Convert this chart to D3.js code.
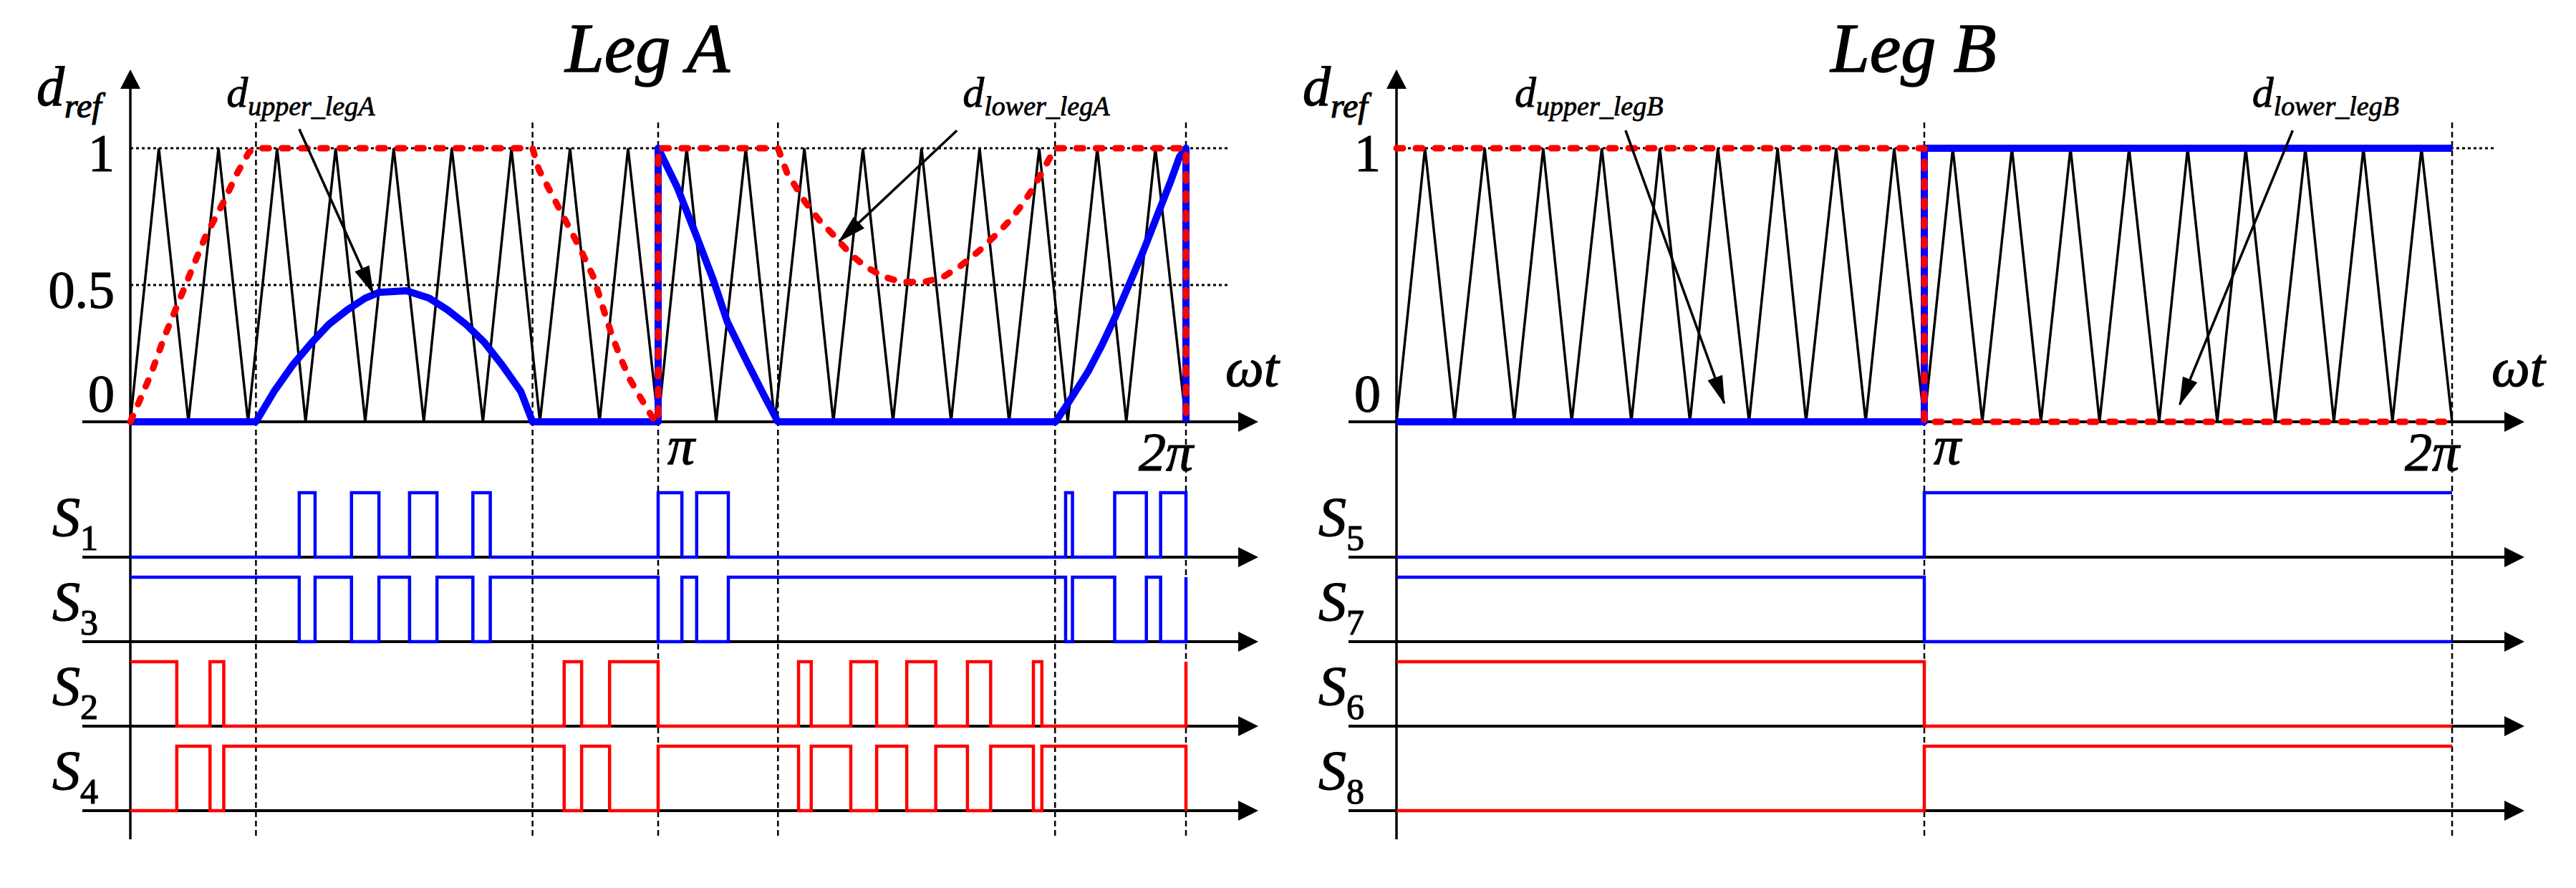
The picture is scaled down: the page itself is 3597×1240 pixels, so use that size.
<!DOCTYPE html>
<html>
<head>
<meta charset="utf-8">
<script src="https://cdnjs.cloudflare.com/ajax/libs/d3/7.8.5/d3.min.js"></script>
<style>
  html, body { margin: 0; padding: 0; background: #fff; }
  svg { display: block; }
</style>
</head>
<body>
<svg id="chart" width="3597" height="1240"></svg>
<script>
// all times are in units of pi (0 .. 2)
const carrierTimes  = [0, 0.054, 0.110, 0.167, 0.223, 0.278, 0.332, 0.389, 0.445, 0.499, 0.556, 0.609,
                       0.668, 0.722, 0.776, 0.833, 0.889, 0.943, 1.0, 1.054, 1.110, 1.166, 1.221, 1.277,
                       1.332, 1.388, 1.445, 1.499, 1.555, 1.609, 1.665, 1.722, 1.776, 1.832, 1.887, 1.942, 2.0];
const carrierLevels = [0, 1, 0, 1, 0, 1, 0, 1, 0, 1, 0, 1, 0, 1, 0, 1, 0, 1, 0,
                       1, 0, 1, 0, 1, 0, 1, 0, 1, 0, 1, 0, 1, 0, 1, 0, 1, 0];

// ---- Leg A ----
const legATicks  = [0, 0.5, 1];
const legALabels = ["0", "0.5", "1"];
const legAGrid   = [0.5, 1];
const legABounds = [0.238, 0.762, 1, 1.227, 1.752, 2];
const upperLegA = [[0,0],[0.238,0],[0.272,0.110],[0.307,0.206],[0.342,0.286],[0.376,0.356],[0.411,0.409],
  [0.445,0.452],[0.471,0.473],[0.523,0.479],[0.566,0.452],[0.601,0.409],[0.636,0.356],[0.670,0.292],
  [0.705,0.206],[0.740,0.110],[0.762,0],[1.0,0],[1.0,1.0],[1.036,0.858],[1.071,0.687],[1.105,0.516],
  [1.131,0.366],[1.166,0.228],[1.200,0.099],[1.227,0],[1.753,0],[1.780,0.078],[1.815,0.185],[1.841,0.281],
  [1.867,0.388],[1.893,0.505],[1.919,0.623],[1.945,0.751],[1.971,0.879],[1.988,0.970],[2.0,1.0],[2.0,0]];
const lowerLegA = [[0,0],[0.013,0.057],[0.039,0.174],[0.065,0.313],[0.090,0.431],[0.117,0.559],[0.142,0.676],
  [0.177,0.805],[0.203,0.911],[0.225,0.986],[0.238,1],[0.762,1],[0.774,0.922],[0.800,0.826],[0.826,0.730],
  [0.852,0.634],[0.878,0.527],[0.895,0.420],[0.913,0.313],[0.930,0.228],[0.947,0.153],[0.973,0.067],
  [0.990,0.014],[1.0,0],[1.0,1],[1.227,1],[1.244,0.911],[1.261,0.858],[1.278,0.805],[1.304,0.740],
  [1.330,0.687],[1.365,0.612],[1.391,0.570],[1.425,0.532],[1.460,0.511],[1.503,0.511],[1.538,0.527],
  [1.573,0.570],[1.607,0.623],[1.642,0.687],[1.668,0.740],[1.694,0.805],[1.715,0.869],[1.733,0.933],
  [1.752,1],[2.0,1],[2.0,0]];
const legASwitches = ["1", "3", "2", "4"];
const legAInit     = [0, 1, 1, 0];
const legAEdges = [
  [0.320,0.350,0.419,0.471,0.529,0.581,0.649,0.682,1.0,1.045,1.073,1.133,1.772,1.785,1.865,1.925,1.952,2.0],
  [0.320,0.350,0.419,0.471,0.529,0.581,0.649,0.682,1.0,1.045,1.073,1.133,1.772,1.785,1.865,1.925,1.952,2.0],
  [0.088,0.151,0.177,0.822,0.855,0.908,1.0,1.266,1.290,1.365,1.414,1.471,1.526,1.586,1.630,1.711,1.727,2.0],
  [0.088,0.151,0.177,0.822,0.855,0.908,1.0,1.266,1.290,1.365,1.414,1.471,1.526,1.586,1.630,1.711,1.727,2.0]
];
const legANotes = [
  { base: "d", sub: "upper_legA", at: [0.182, 1.152], from: [0.32, 1.07], to: [0.46, 0.47] },
  { base: "d", sub: "lower_legA", at: [1.577, 1.152], from: [1.566, 1.065], to: [1.343, 0.66] }
];

// ---- Leg B ----
const legBTicks  = [0, 1];
const legBLabels = ["0", "1"];
const legBGrid   = [1];
const legBBounds = [1, 2];
const upperLegB = [[0,0],[1,0],[1,1],[2,1]];
const lowerLegB = [[0,1],[1,1],[1,0],[2,0]];
const legBSwitches = ["5", "7", "6", "8"];
const legBInit     = [0, 1, 1, 0];
const legBEdges    = [[1], [1], [1], [1]];
const legBNotes = [
  { base: "d", sub: "upper_legB", at: [0.224, 1.152], from: [0.434, 1.065], to: [0.621, 0.068] },
  { base: "d", sub: "lower_legB", at: [1.621, 1.152], from: [1.698, 1.065], to: [1.484, 0.063] }
];

const svg   = d3.select("#chart").attr("viewBox", [0, 0, 3597, 1240]);
const serif = "'Liberation Serif', 'Times New Roman', serif";
const blue  = "#0000ff";
const red   = "#ff0000";

svg.append("defs").append("marker")
  .attr("id", "head")
  .attr("markerUnits", "userSpaceOnUse")
  .attr("viewBox", "0 -12 40 24")
  .attr("refX", 38).attr("refY", 0)
  .attr("markerWidth", 40).attr("markerHeight", 24)
  .attr("orient", "auto")
  .append("path")
  .attr("d", "M0,-11L40,0L0,11Z")
  .attr("fill", "#000");

// heavier glyphs, like the scanned figure
function ink(sel, w){
  return sel.attr("fill", "#000").attr("stroke", "#000").attr("stroke-width", w);
}

function drawLeg(c){
  const x    = d3.scaleLinear().domain([0, 2]).range([c.left, c.left + 1474]);
  const y    = d3.scaleLinear().domain([0, 1]).range([589, 207]);
  const row  = d3.scalePoint().domain(c.switches).range([778, 1132]);
  const high = 90;
  const x0 = x(0), xEnd = x(2);
  const g = svg.append("g");

  // dotted levels
  g.selectAll(".grid").data(c.grid).join("line")
    .attr("x1", x0).attr("x2", xEnd + 58)
    .attr("y1", d => y(d)).attr("y2", d => y(d))
    .attr("stroke", "#000").attr("stroke-width", 3)
    .attr("stroke-dasharray", "4,4");

  // dashed boundaries
  g.selectAll(".bound").data(c.bounds).join("line")
    .attr("x1", d => x(d)).attr("x2", d => x(d))
    .attr("y1", 171).attr("y2", 1172)
    .attr("stroke", "#000").attr("stroke-width", 2.5)
    .attr("stroke-dasharray", "8,5");

  // carrier
  const line = d3.line().x(d => x(d[0])).y(d => y(d[1]));
  g.append("path")
    .datum(d3.zip(carrierTimes, carrierLevels))
    .attr("d", line)
    .attr("fill", "none").attr("stroke", "#000").attr("stroke-width", 3.5);

  // axes
  g.append("line")
    .attr("x1", x0).attr("x2", x0).attr("y1", 118).attr("y2", 1172)
    .attr("stroke", "#000").attr("stroke-width", 3.5);
  g.append("path")
    .attr("d", `M${x0},97L${x0 - 14},124L${x0 + 14},124Z`)
    .attr("fill", "#000");
  const axisYs = [y(0)].concat(c.switches.map(s => row(s)));
  g.selectAll(".axis").data(axisYs).join("line")
    .attr("x1", x0 - 67).attr("x2", xEnd + 78)
    .attr("y1", d => d).attr("y2", d => d)
    .attr("stroke", "#000").attr("stroke-width", 4);
  g.selectAll(".tip").data(axisYs).join("path")
    .attr("d", d => `M${xEnd + 101},${d}L${xEnd + 73},${d - 14}L${xEnd + 73},${d + 14}Z`)
    .attr("fill", "#000");

  // references
  g.append("path").datum(c.upper).attr("d", line)
    .attr("fill", "none").attr("stroke", blue).attr("stroke-width", 10)
    .attr("stroke-linejoin", "round");
  g.append("path").datum(c.lower).attr("d", line)
    .attr("fill", "none").attr("stroke", red).attr("stroke-width", 9)
    .attr("stroke-dasharray", "9,18").attr("stroke-linecap", "round")
    .attr("stroke-linejoin", "round");

  // switching signals
  c.switches.forEach((s, i) => {
    let level = c.init[i];
    const pts = [[0, level]];
    c.edges[i].forEach(e => {
      pts.push([e, level]);
      level = 1 - level;
      pts.push([e, level]);
    });
    if (pts[pts.length - 1][0] < 2) pts.push([2, level]);
    const base = row(s);
    g.append("path")
      .datum(pts)
      .attr("d", d3.line().x(d => x(d[0])).y(d => base - d[1] * high))
      .attr("fill", "none")
      .attr("stroke", i < 2 ? blue : red)
      .attr("stroke-width", 4.5)
      .attr("stroke-linejoin", "miter");
    const t = ink(g.append("text"), 1.2)
      .attr("x", x0 - 109).attr("y", base - 30)
      .attr("font-family", serif);
    t.append("tspan").attr("font-size", 78).attr("font-style", "italic").text("S");
    t.append("tspan").attr("font-size", 50).attr("dy", 20).text(s);
  });

  // tick labels
  ink(g.selectAll(".tick").data(c.ticks).join("text"), 1.2)
    .attr("x", x0 - 22)
    .attr("y", d => d === 0 ? y(d) - 14 : y(d) + 32)
    .attr("text-anchor", "end")
    .attr("font-family", serif).attr("font-size", 74)
    .text((d, i) => c.labels[i]);

  // titles and axis names
  ink(g.append("text"), 1.5)
    .attr("x", x0 + 722).attr("y", 100)
    .attr("text-anchor", "middle")
    .attr("font-family", serif).attr("font-size", 98).attr("font-style", "italic")
    .text(c.title);
  const dref = ink(g.append("text"), 1.2)
    .attr("x", x0 - 131).attr("y", 147)
    .attr("font-family", serif).attr("font-style", "italic");
  dref.append("tspan").attr("font-size", 78).text("d");
  dref.append("tspan").attr("font-size", 48).attr("dy", 17).text("ref");
  ink(g.append("text"), 1.2)
    .attr("x", xEnd + 55).attr("y", 539)
    .attr("font-family", serif).attr("font-size", 76).attr("font-style", "italic")
    .text("ωt");
  ink(g.append("text"), 1.2)
    .attr("x", x(1) + 13).attr("y", 648)
    .attr("font-family", serif).attr("font-size", 76).attr("font-style", "italic")
    .text("π");
  ink(g.append("text"), 1.2)
    .attr("x", xEnd + 10).attr("y", 657)
    .attr("text-anchor", "end")
    .attr("font-family", serif).attr("font-size", 76).attr("font-style", "italic")
    .text("2π");

  // annotations
  c.notes.forEach(n => {
    const t = ink(g.append("text"), 0.8)
      .attr("x", x(n.at[0])).attr("y", y(n.at[1]))
      .attr("font-family", serif).attr("font-style", "italic");
    t.append("tspan").attr("font-size", 60).text(n.base);
    t.append("tspan").attr("font-size", 38).attr("dy", 12).text(n.sub);
    g.append("line")
      .attr("x1", x(n.from[0])).attr("y1", y(n.from[1]))
      .attr("x2", x(n.to[0])).attr("y2", y(n.to[1]))
      .attr("stroke", "#000").attr("stroke-width", 3.5)
      .attr("marker-end", "url(#head)");
  });
}

drawLeg({ left: 182, title: "Leg A", ticks: legATicks, labels: legALabels, grid: legAGrid,
  bounds: legABounds, upper: upperLegA, lower: lowerLegA, switches: legASwitches,
  init: legAInit, edges: legAEdges, notes: legANotes });
drawLeg({ left: 1950, title: "Leg B", ticks: legBTicks, labels: legBLabels, grid: legBGrid,
  bounds: legBBounds, upper: upperLegB, lower: lowerLegB, switches: legBSwitches,
  init: legBInit, edges: legBEdges, notes: legBNotes });
</script>
</body>
</html>
